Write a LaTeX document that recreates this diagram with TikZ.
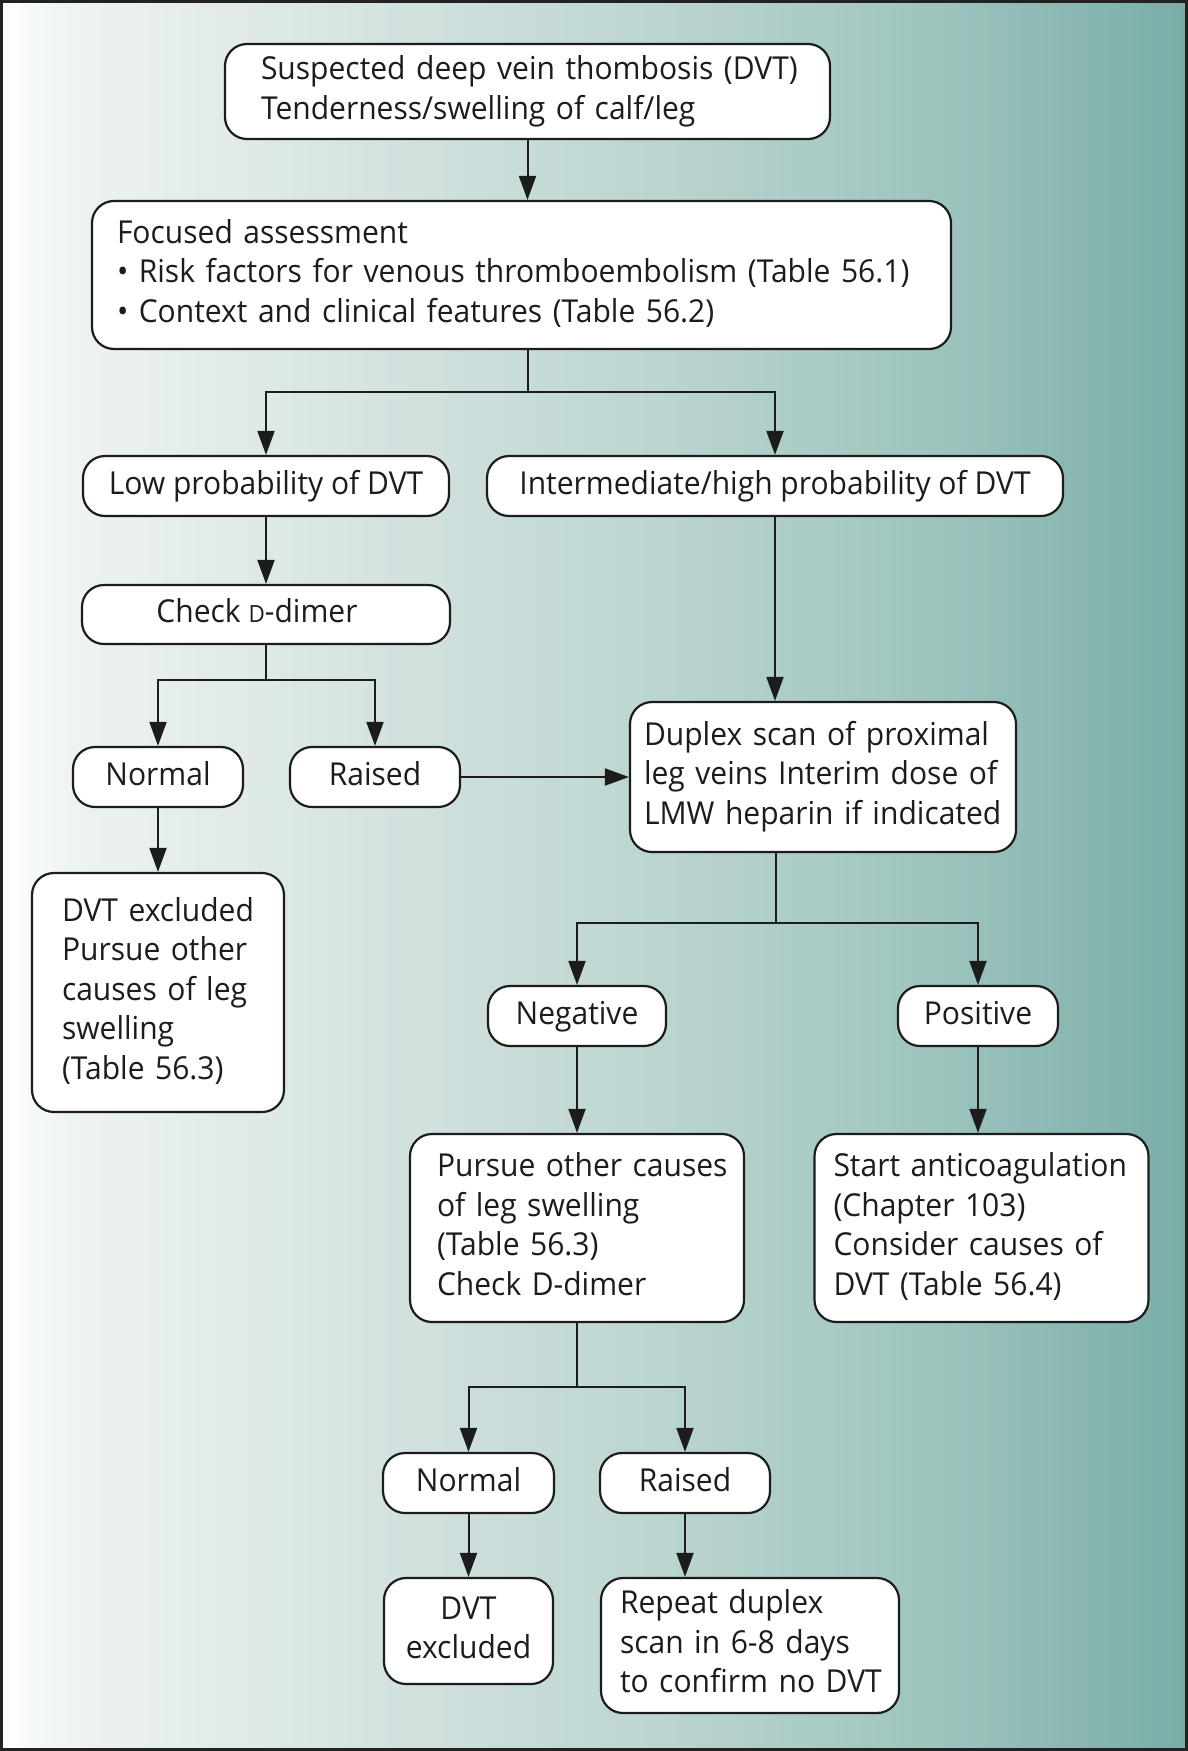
\documentclass[tikz,border=0pt]{standalone}
\usepackage{fontspec}
\setmainfont[FakeStretch=0.95]{Open Sans}
\usetikzlibrary{arrows.meta}
\definecolor{lc}{HTML}{1C1C1C}
\definecolor{framec}{HTML}{222222}
\definecolor{g0}{HTML}{FFFFFF}
\definecolor{g1}{HTML}{EEF3F3}
\definecolor{g2}{HTML}{D6E4E2}
\definecolor{g3}{HTML}{BCD5D1}
\definecolor{g4}{HTML}{9CC3BD}
\definecolor{g5}{HTML}{78ADA6}
\pgfdeclarehorizontalshading{bgshade}{100bp}{color(0bp)=(g0); color(25bp)=(g0); color(28bp)=(g1); color(40bp)=(g2); color(52.5bp)=(g3); color(65bp)=(g4); color(75bp)=(g5); color(100bp)=(g5)}
\newcommand\TL[1]{\begin{tabular}{@{}l@{}}#1\end{tabular}}
\newcommand\TC[1]{\begin{tabular}{@{}c@{}}#1\end{tabular}}
\tikzset{
  box/.style={draw=lc, fill=white, line width=1.1pt, rounded corners=11pt, inner ysep=0pt, text=lc},
  cbox/.style={box, align=center, text height=11.3pt, text depth=3.2pt, inner xsep=0pt},
  tbox/.style={box, align=left},
  ln/.style={draw=lc, line width=1pt},
  arr/.style={draw=lc, line width=1pt, -{Triangle[length=12pt,width=8.5pt]}},
}
\begin{document}
\begin{tikzpicture}[x=0.5pt,y=-0.5pt,font=\fontsize{15.8pt}{19.75pt}\selectfont]
\useasboundingbox (0,0) rectangle (1188,1751);
\shade[shading=bgshade] (0,0) rectangle (1188,1751);
\draw[line width=1.6pt, draw=framec] (1.6,1.6) rectangle (1186.4,1749.4);

\node[tbox, minimum height=47.5pt, inner xsep=18pt, text width=266.5pt] (b1) at (527.5,91.5)
  {\TL{Suspected deep vein thombosis (DVT)\\Tenderness/swelling of calf/leg}};
\node[tbox, minimum height=74pt, inner xsep=12.5pt, text width=404.5pt] (b2) at (521.5,275)
  {\TL{Focused assessment\\• Risk factors for venous thromboembolism (Table 56.1)\\• Context and clinical features (Table 56.2)}};
\node[cbox, minimum width=183pt, minimum height=30pt] (low) at (266,486) {Low probability of DVT};
\node[cbox, minimum width=288pt, minimum height=30pt] (inter) at (775,486) {Intermediate/high probability of DVT};
\node[cbox, minimum width=184pt, minimum height=29.5pt] (check) at (266,614.5) {Check {\fontsize{11.8pt}{19.75pt}\selectfont D}-dimer\hspace*{9pt}};
\node[cbox, minimum width=85pt, minimum height=30pt] (nor1) at (158,777) {Normal};
\node[cbox, minimum width=85pt, minimum height=30pt] (rai1) at (375,777) {Raised};
\node[tbox, minimum height=75pt, inner xsep=7pt, text width=179pt] (dup) at (823,777)
  {\TL{Duplex scan of proximal\\leg veins Interim dose of\\LMW heparin if indicated}};
\node[tbox, minimum height=119.5pt, inner xsep=15pt, text width=96pt] (exc1) at (158,992.5)
  {\TL{DVT excluded\\Pursue other\\causes of leg\\swelling\\(Table 56.3)}};
\node[cbox, minimum width=89pt, minimum height=30pt] (neg) at (577,1016) {Negative};
\node[cbox, minimum width=80pt, minimum height=30pt] (pos) at (978,1016) {Positive};
\node[tbox, minimum height=94pt, inner xsep=13.5pt, text width=140pt] (pur) at (577,1228)
  {\TL{Pursue other causes\\of leg swelling\\(Table 56.3)\\Check D-dimer}};
\node[tbox, minimum height=94pt, inner xsep=9.5pt, text width=148pt] (sta) at (981.5,1228)
  {\TL{Start anticoagulation\\(Chapter 103)\\Consider causes of\\DVT (Table 56.4)}};
\node[cbox, minimum width=85.5pt, minimum height=30pt] (nor2) at (468.5,1483) {Normal};
\node[cbox, minimum width=85pt, minimum height=30pt] (rai2) at (685,1483) {Raised};
\node[box, align=center, inner xsep=0pt, minimum width=84.5pt, minimum height=53pt] (exc2) at (468.5,1631)
  {\TC{DVT\\excluded}};
\node[tbox, minimum height=67.5pt, inner xsep=9.5pt, text width=130pt] (rep) at (750,1645.5)
  {\TL{Repeat duplex\\scan in 6-8 days\\to confirm no DVT}};

\coordinate (j1) at (528,392);
\coordinate (j2) at (266,680);
\coordinate (j3) at (776,923);
\coordinate (j4) at (577,1387);

\draw[arr] (b1.south) -- (b1.south |- b2.north);
\draw[ln] (b2.south -| j1) -- (j1);
\draw[arr] (j1) -| (low.north);
\draw[arr] (j1) -| (inter.north);
\draw[arr] (low) -- (check);
\draw[ln] (check) -- (j2);
\draw[arr] (j2) -| (nor1.north);
\draw[arr] (j2) -| (rai1.north);
\draw[arr] (rai1) -- (dup);
\draw[arr] (inter.south) -- (inter.south |- dup.north);
\draw[arr] (nor1) -- (exc1);
\draw[ln] (dup.south -| j3) -- (j3);
\draw[arr] (j3) -| (neg.north);
\draw[arr] (j3) -| (pos.north);
\draw[arr] (neg) -- (pur);
\draw[arr] (pos.south) -- (pos.south |- sta.north);
\draw[ln] (pur) -- (j4);
\draw[arr] (j4) -| (nor2.north);
\draw[arr] (j4) -| (rai2.north);
\draw[arr] (nor2) -- (exc2);
\draw[arr] (rai2.south) -- (rai2.south |- rep.north);
\end{tikzpicture}
\end{document}
